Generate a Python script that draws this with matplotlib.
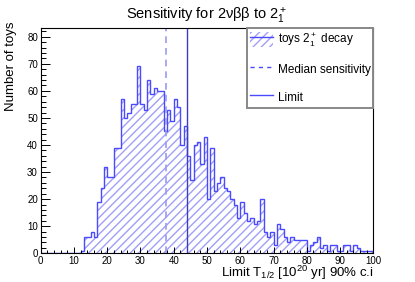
import matplotlib
matplotlib.use("Agg")
import matplotlib.pyplot as plt
import numpy as np
from matplotlib.patches import Patch
from matplotlib.lines import Line2D
from matplotlib.ticker import MultipleLocator

plt.rcParams['font.family'] = ['Liberation Sans', 'DejaVu Sans']
plt.rcParams['mathtext.fontset'] = 'custom'
plt.rcParams['mathtext.rm'] = 'Liberation Sans'
plt.rcParams['mathtext.it'] = 'Liberation Sans'
plt.rcParams['hatch.linewidth'] = 1.0

# toy limits histogram, 1 unit bins from 0 to 100
bin_edges = np.arange(0, 101, 1)
counts = [0, 0, 0, 0, 0, 0, 0, 0, 0, 0,
          0, 0, 1, 6, 6, 8, 6, 19, 24, 32,
          28, 28, 39, 39, 57, 50, 52, 55, 55, 69,
          55, 53, 64, 59, 61, 60, 60, 45, 53, 49,
          57, 54, 40, 47, 36, 27, 40, 41, 33, 43,
          20, 39, 23, 26, 28, 24, 23, 20, 18, 13,
          19, 15, 12, 13, 11, 12, 20, 8, 6, 8,
          3, 11, 9, 6, 4, 6, 5, 5, 5, 5,
          1, 3, 4, 6, 2, 3, 1, 3, 3, 1,
          1, 3, 3, 1, 3, 2, 1, 1, 1, 1]
median_sens = 37.7
limit = 44.1

hatch_col = "#a0a0f8"
line_col = "#4a4aff"

fig = plt.figure(figsize=(4.15, 2.82), dpi=100)
ax = fig.add_axes([0.098, 0.1018, 0.8017, 0.7978])

ax.stairs(counts, bin_edges, fill=True, facecolor="none", edgecolor=hatch_col,
          hatch="////", linewidth=0)
ax.stairs(counts, bin_edges, color=line_col, linewidth=1.0)
ax.axvline(median_sens, color="#9a9af4", ls=(0, (4, 3)), lw=1.2)
ax.axvline(limit, color="#3c3cc8", lw=1.0)

ax.set_xlim(0, 100)
ax.set_ylim(0, 83.1)
ax.xaxis.set_major_locator(MultipleLocator(10))
ax.xaxis.set_minor_locator(MultipleLocator(2))
ax.yaxis.set_major_locator(MultipleLocator(10))
ax.yaxis.set_minor_locator(MultipleLocator(2))
ax.tick_params(axis="x", which="major", direction="in", length=4.5, width=0.7,
               labelsize=7, pad=2)
ax.tick_params(axis="x", which="minor", direction="in", length=2.3, width=0.7)
ax.tick_params(axis="y", which="major", direction="in", length=6.5, width=0.7,
               labelsize=7, pad=2)
ax.tick_params(axis="y", which="minor", direction="in", length=3.3, width=0.7)
for s in ax.spines.values():
    s.set_linewidth(0.8)

ax.set_title("Sensitivity for 2\u03bd\u03b2\u03b2 to 2$_1^+$", fontsize=10.5, pad=6)
fig.text(0.8995, 0.031, "Limit T$_{1/2}$ [10$^{20}$ yr] 90% c.i", fontsize=9.5,
         ha="right", va="center")
ax.set_ylabel("Number of toys", fontsize=9.5, loc="top")
ax.yaxis.set_label_coords(-0.072, 1.03)

handles = [(Patch(facecolor="none", edgecolor=hatch_col, hatch="////", linewidth=0),
            Line2D([], [], color=line_col, lw=1.0)),
           Line2D([], [], color=line_col, ls=(0, (3, 3)), lw=1.0),
           Line2D([], [], color=line_col, lw=1.0)]
labels = ["toys 2$_1^+$ decay", "Median sensitivity", "Limit"]
leg = ax.legend(handles, labels, loc="upper right", bbox_to_anchor=(1.0, 1.0),
                borderaxespad=0, fontsize=8.5, handlelength=1.95, handleheight=1.6,
                labelspacing=1.1, handletextpad=0.35, borderpad=0.25,
                fancybox=False, framealpha=1)
leg.get_frame().set_edgecolor("#888888")
leg.get_frame().set_linewidth(1.4)

fig.savefig("out.png", dpi=100)
